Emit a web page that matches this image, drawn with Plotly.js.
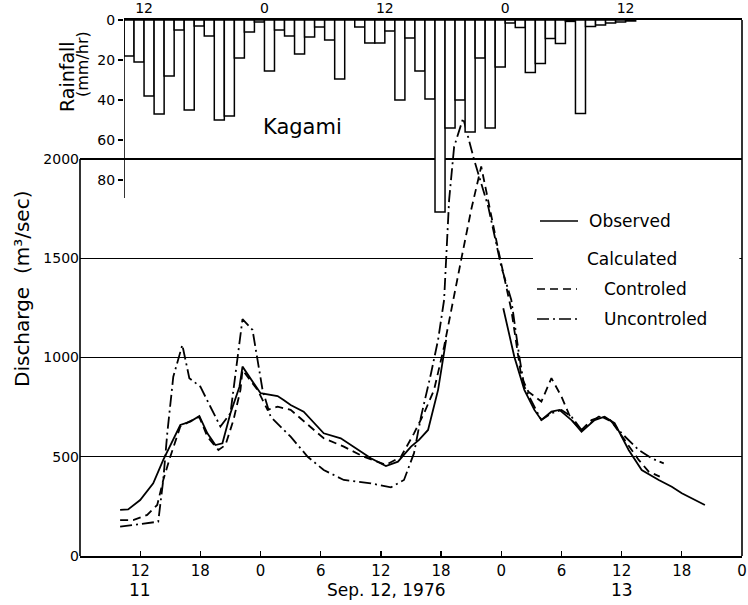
<!DOCTYPE html>
<html>
<head>
<meta charset="utf-8">
<script src="https://cdn.plot.ly/plotly-3.0.1.min.js"></script>
<style>html,body{margin:0;padding:0;background:#fff;}#chart{width:748px;height:605px;}</style>
</head>
<body>
<div id="chart"></div>
<script>
// ---- Rainfall (mm/hr), hourly bars; hour positions on the top axis ----
const rainHours = [10.5,11.5,12.5,13.5,14.5,15.5,16.5,17.5,18.5,19.5,20.5,21.5,22.5,23.5,24.5,25.5,26.5,27.5,28.5,29.5,30.5,31.5,32.5,33.5,34.5,35.5,36.5,37.5,38.5,39.5,40.5,41.5,42.5,43.5,44.5,45.5,46.5,47.5,48.5,49.5,50.5,51.5,52.5,53.5,54.5,55.5,56.5,57.5,58.5,59.5,60.5];
const rainfall  = [18,21,38,47,28,5,45,3,8,50,48,19,6,1,25.5,5,8,17,8.5,3.5,10,29.5,0,3.5,11.5,11.5,5.5,40,9,25.5,39.5,96,54,40,56,19,54,23.5,1.5,3.7,26.3,21.7,9.2,11.7,0.7,46.7,3.3,2.5,1.5,1,0.5];
const rainTickVals = [12,24,36,48,60];
const rainTickText = ['12','0','12','0','12'];
const rainYTicks = [0,20,40,60,80];

// ---- Discharge (m3/sec); hours counted from Sep 11 00:00 ----
// observed record has a gap around the peak (null)
const obsHours = [10,10.8,12,13.3,14.3,16,17,17.9,18.7,19.5,20.2,21,21.9,22.2,24,25.7,26.3,27,28.3,30.3,32,33.7,35,36.5,37.7,39,39.8,40.7,41.7,42.5,45,48.2,49.3,50.3,51.3,52,53,53.8,55,56,57.3,58.3,59.3,60.7,62,63.7,65,66,67.3,68.3];
const obsQ     = [232,235,282,366,484,660,677,705,618,559,568,719,853,954,820,806,786,761,727,618,593,534,492,453,475,551,585,635,837,1089,null,1248,1004,837,736,685,727,736,685,626,685,702,669,534,433,383,349,316,282,257];

const ctrlHours = [10,11.3,12.7,13.7,14.3,15,16,17,17.9,18.7,19.8,20.5,21.3,22,22.2,23.7,24.7,25.7,27,29,30.3,32.3,34.3,36.5,38,39.3,40.3,41.3,42.3,44,45,46,47.7,49,50,50.7,52,53,54,55,56,57,58,59,60.3,61.7,62.7,63.8];
const ctrlQ     = [181,181,207,257,383,500,652,680,700,601,534,559,685,837,937,837,736,752,736,652,593,551,500,459,500,618,719,837,1055,1492,1744,1962,1542,1240,903,828,778,896,803,685,635,685,702,677,585,484,425,400];

const unctrlHours = [10,13.8,14.3,14.7,15.3,16.2,16.9,18,19,20,21,21.6,22.2,23.2,24.2,25,27,28.7,30.3,32.3,35,37,38.3,39.3,40,41,41.7,42.3,42.8,43.3,44.2,45.3,46.7,48,49,49.8,50.3,51.3,52,53,54,55,56,57.7,58.7,60,61.7,63,64.2];
const unctrlQ     = [148,173,383,618,903,1063,896,853,752,652,719,971,1193,1139,837,702,601,500,433,383,366,346,383,518,702,921,1089,1290,1794,2062,2206,1995,1760,1458,1290,1004,853,752,685,719,736,702,635,702,694,618,534,492,467];

const xTickVals = [12,18,24,30,36,42,48,54,60,66,72];
const xTickText = ['12','18','0','6','12','18','0','6','12','18','0'];
const yTickVals = [0,500,1000,1500,2000];

const FONT = 'DejaVu Sans, Arial, sans-serif';
const lineW = 1.8;

const traces = [
  {x: obsHours, y: obsQ, type:'scatter', mode:'lines', xaxis:'x', yaxis:'y',
   line:{color:'#000', width:lineW, dash:'solid'}, connectgaps:false, hoverinfo:'skip'},
  {x: ctrlHours, y: ctrlQ, type:'scatter', mode:'lines', xaxis:'x', yaxis:'y',
   line:{color:'#000', width:lineW, dash:'8px,5px'}, hoverinfo:'skip'},
  {x: unctrlHours, y: unctrlQ, type:'scatter', mode:'lines', xaxis:'x', yaxis:'y',
   line:{color:'#000', width:lineW, dash:'12px,4px,2px,4px'}, hoverinfo:'skip'},
  {x: rainHours, y: rainfall, type:'bar', xaxis:'x2', yaxis:'y2', width:1,
   marker:{color:'#fff', line:{color:'#000', width:1.5}}, hoverinfo:'skip'}
];

// paper helpers (plot area: 80..742 px wide, 20..556 px tall)
const px = v => (v-80)/662;
const py = v => (556-v)/536;

function label(x, y, text, size, opts) {
  return Object.assign({xref:'paper', yref:'paper', x:px(x), y:py(y), text:text, showarrow:false,
    xanchor:'center', yanchor:'middle', font:{size:size}}, opts || {});
}

const layout = {
  width:748, height:605,
  margin:{l:80, r:6, t:20, b:49},
  paper_bgcolor:'#fff', plot_bgcolor:'rgba(0,0,0,0)',
  showlegend:false,
  font:{family:FONT, color:'#000', size:15},
  xaxis:{domain:[0,1], range:[6,72], anchor:'y', tickvals:xTickVals, ticktext:xTickText,
         ticks:'inside', ticklen:5, tickwidth:1.3, tickcolor:'#000', showline:true, linecolor:'#000', linewidth:1.6,
         showgrid:false, zeroline:false, tickfont:{family:FONT, size:15}},
  yaxis:{domain:[0,1], range:[0, 2000*536/397], anchor:'x', tickvals:yTickVals,
         ticks:'', showline:false, showgrid:true, gridcolor:'#000', gridwidth:1.2, zeroline:false,
         tickfont:{family:FONT, size:14}},
  xaxis2:{domain:[px(124),1], range:[10,71.6], anchor:'y2', side:'top', tickvals:rainTickVals, ticktext:rainTickText,
          ticks:'', showline:true, linecolor:'#000', linewidth:1.6, showgrid:false, zeroline:false,
          tickfont:{family:FONT, size:14}},
  yaxis2:{domain:[0,1], range:[268,0], anchor:'x2', tickvals:rainYTicks, ticks:'outside', ticklen:5,
          tickcolor:'#000', tickwidth:1.3, showline:false, showgrid:false, zeroline:false,
          tickfont:{family:FONT, size:14}},
  shapes:[
    {type:'line', xref:'x2', yref:'y2', x0:10, x1:10, y0:0, y1:89, line:{color:'#000', width:1.6}},
    {type:'line', xref:'paper', yref:'y', x0:0, x1:0, y0:0, y1:2000, line:{color:'#000', width:1.6}},
    {type:'rect', xref:'paper', yref:'y', x0:px(533), x1:0.996, y0:1470, y1:1530, fillcolor:'#fff', line:{width:0}, layer:'above'},
    {type:'line', xref:'paper', yref:'paper', x0:1, x1:1, y0:0, y1:1, line:{color:'#000', width:1.6}},
    {type:'line', xref:'paper', yref:'paper', x0:px(540), x1:px(578), y0:py(221), y1:py(221), line:{color:'#000', width:1.6}},
    {type:'line', xref:'paper', yref:'paper', x0:px(537), x1:px(577), y0:py(289), y1:py(289), line:{color:'#000', width:1.6, dash:'8px,5px'}},
    {type:'line', xref:'paper', yref:'paper', x0:px(537), x1:px(577), y0:py(319), y1:py(319), line:{color:'#000', width:1.6, dash:'12px,4px,2px,4px'}}
  ],
  annotations:[
    label(587, 221, 'Observed', 17, {xanchor:'left'}),
    label(585, 259, 'Calculated', 17, {xanchor:'left'}),
    label(602, 289, 'Controled', 17, {xanchor:'left'}),
    label(602, 319, 'Uncontroled', 17, {xanchor:'left'}),
    label(302, 127, 'Kagami', 21),
    label(22, 289, 'Discharge  (m³/sec)', 20, {textangle:-90}),
    label(67, 77, 'Rainfall', 19, {textangle:-90}),
    label(82, 64, '(mm/hr)', 16, {textangle:-90}),
    label(140, 590, '11', 17),
    label(386, 590, 'Sep. 12, 1976', 17),
    label(622, 590, '13', 17)
  ]
};

Plotly.newPlot('chart', traces, layout, {staticPlot:true, displayModeBar:false});
</script>
</body>
</html>
